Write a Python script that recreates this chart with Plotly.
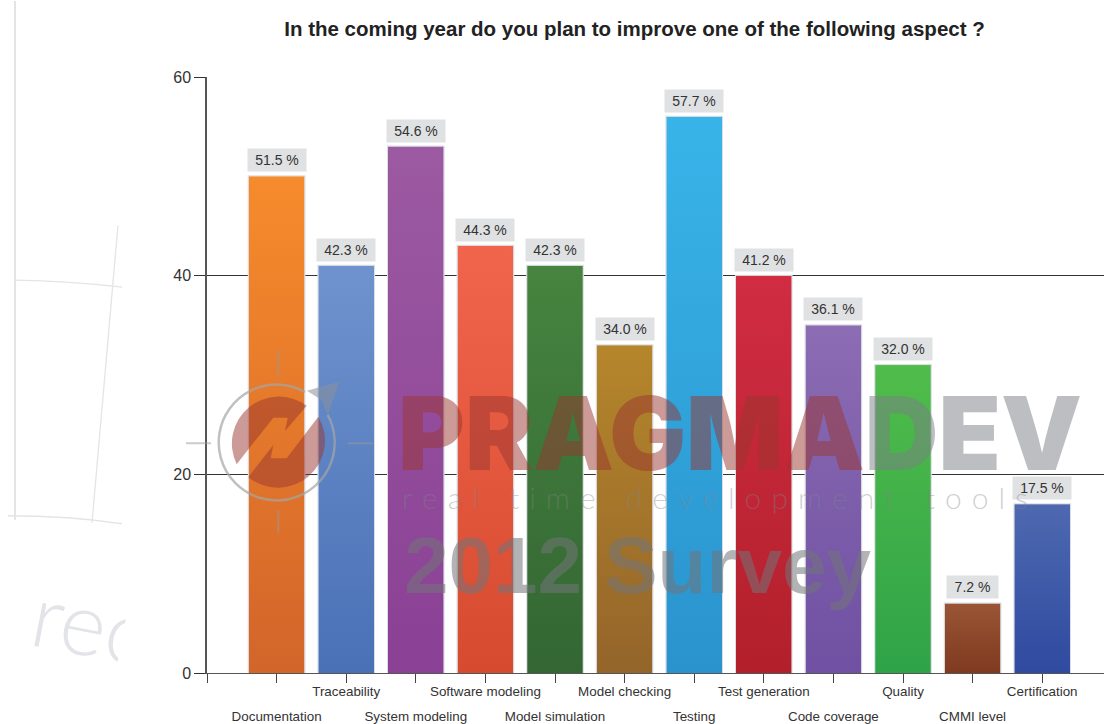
import base64
import plotly.graph_objects as go

categories = ["Documentation", "Traceability", "System modeling", "Software modeling",
              "Model simulation", "Model checking", "Testing", "Test generation",
              "Code coverage", "Quality", "CMMI level", "Certification"]
values = [50, 41, 53, 43, 41, 33, 56, 40, 35, 31, 7, 17]
labels = ["51.5 %", "42.3 %", "54.6 %", "44.3 %", "42.3 %", "34.0 %",
          "57.7 %", "41.2 %", "36.1 %", "32.0 %", "7.2 %", "17.5 %"]
top_colors = ["#F68B2C", "#6F93CE", "#9C5AA2", "#F0654B", "#46843F", "#B5862B",
              "#38B4E9", "#D12C42", "#8C6CB3", "#50BC4A", "#9A5535", "#4E69B0"]
bottom_colors = ["#D2652A", "#4A70B6", "#8A4095", "#D64A30", "#336633", "#94652A",
                 "#2A93CE", "#B2202B", "#6F50A2", "#2FA348", "#7F3A20", "#2F4A9F"]
y_ticks = [0, 20, 40, 60]

W, H = 1104, 724
L, T, B = 207, 76.5, 50.5
FONT = "Liberation Sans, Arial, sans-serif"
TXT = "#333333"
positions = list(range(1, len(categories) + 1))


def uri(svg):
    return "data:image/svg+xml;base64," + base64.b64encode(svg.encode()).decode()


def gradient(c1, c2):
    return uri(f'<svg xmlns="http://www.w3.org/2000/svg" width="10" height="100" viewBox="0 0 10 100" '
               f'preserveAspectRatio="none"><defs><linearGradient id="g" x1="0" y1="0" x2="0" y2="1">'
               f'<stop offset="0" stop-color="{c1}"/><stop offset="1" stop-color="{c2}"/></linearGradient></defs>'
               f'<rect width="10" height="100" fill="url(#g)"/></svg>')


def px_img(svg, x, y, w, h, layer="above"):
    return dict(source=uri(svg), xref="paper", yref="paper", xanchor="left", yanchor="top",
                x=(x - L) / (W - L), y=1 - (y - T) / (H - T - B), sizex=w / (W - L), sizey=h / (H - T - B),
                sizing="stretch", layer=layer)


def xp(px):
    return (px - L) / (W - L)


def yp(px):
    return 1 - (px - T) / (H - T - B)


# logo: coordinates come from a 3x crop with origin (205, 370); SVG origin is (180, 340)
def z(x, y):
    return f"{x / 3 + 25:.1f} {y / 3 + 30:.1f}"


red = 'fill="#99352F" fill-opacity="0.5"'
logo = f'''<svg xmlns="http://www.w3.org/2000/svg" width="200" height="210" viewBox="0 0 200 210">
<path d="M{z(95,283)} L{z(205,143)} L{z(248,143)} L{z(240,183)} L{z(305,107)} A47 47 0 0 0 {z(95,283)} Z" {red}/>
<path d="M{z(130,322)} L{z(205,225)} L{z(197,265)} L{z(245,265)} L{z(340,140)} A47 47 0 0 1 {z(130,322)} Z" {red}/>
<path d="M{z(300,66)} A58 58 0 1 0 {z(368,135)}" fill="none" stroke="#A5A5A5" stroke-opacity="0.7" stroke-width="2.5"/>
<path d="M{z(305,62)} L{z(403,35)} L{z(368,135)} L{z(350,90)} Z" fill="#8A8F99" fill-opacity="0.55"/>
<g stroke="#9A9A9A" stroke-opacity="0.5" stroke-width="2">
<line x1="6" y1="103.3" x2="31" y2="103.3"/>
<line x1="168" y1="103.3" x2="193" y2="103.3"/>
<line x1="98.3" y1="10" x2="98.3" y2="37"/>
<line x1="98.3" y1="170" x2="98.3" y2="193"/>
</g></svg>'''

left = '''<svg xmlns="http://www.w3.org/2000/svg" width="122" height="724" viewBox="0 0 122 724">
<g fill="none" stroke="#E2E4E8">
<line x1="15" y1="0" x2="15" y2="520" stroke-width="2"/>
<path d="M15 280 Q70 281 122 287" stroke-width="1.3"/>
<line x1="118" y1="225" x2="92" y2="523" stroke-width="1.3"/>
<path d="M8 516 Q70 516 122 524" stroke-width="1.6"/>
</g></svg>'''

images = [dict(source=gradient(c1, c2), xref="x", yref="y", x=p - 0.4, y=v, sizex=0.8, sizey=v,
               xanchor="left", yanchor="top", sizing="stretch", layer="above")
          for p, v, c1, c2 in zip(positions, values, top_colors, bottom_colors)]
images.append(px_img(logo, 180, 340, 200, 210))
images.append(px_img(left, 0, 0, 122, 724, layer="below"))

annotations = [dict(x=p, y=v, xref="x", yref="y", text=t, showarrow=False, yanchor="bottom", yshift=4,
                    width=58 if len(t) > 5 else 51, height=22, bgcolor="#DFE1E3",
                    font=dict(family=FONT, size=14, color=TXT), borderpad=0)
               for p, v, t in zip(positions, values, labels)]
SP = "\u00a0\u200a"
annotations += [
    dict(xref="paper", yref="paper", x=xp(396), y=yp(433), xanchor="left", yanchor="middle", showarrow=False,
         text="PRAGMA<span style='color:rgb(123,125,133)'>DEV</span>",
         font=dict(family="Inter", size=102, weight=900, color="rgba(153,53,47,0.5)")),
    dict(xref="paper", yref="paper", x=xp(400), y=yp(497), xanchor="left", yanchor="middle", showarrow=False,
         text=SP.join("real") + SP * 3 + SP.join("time") + SP * 3 + SP.join("development") + SP * 3 + SP.join("tools"),
         font=dict(family="Lato", size=30, weight=300, color="rgba(130,132,140,0.4)")),
    dict(xref="paper", yref="paper", x=xp(402), y=yp(566), xanchor="left", yanchor="middle", showarrow=False,
         text="2012 Survey",
         font=dict(family=FONT, size=80, weight=700, color="rgba(115,117,120,0.55)")),
    dict(xref="paper", yref="paper", x=xp(79), y=yp(620), xanchor="center", yanchor="middle", showarrow=False,
         text="rec", textangle=11, width=92, height=110, align="left",
         font=dict(family="Lato", size=88, weight=300, color="#E2E4E8")),
]

fig = go.Figure()
fig.add_trace(go.Bar(x=positions, y=values, width=0.8, showlegend=False,
                     marker=dict(color=top_colors, line=dict(color="#DCDEE3", width=2))))
fig.add_trace(go.Scatter(x=positions, y=[None] * len(positions), xaxis="x2", showlegend=False, hoverinfo="skip"))

fig.update_layout(
    width=W, height=H, autosize=False, margin=dict(l=L, r=0, t=T, b=B, pad=0),
    paper_bgcolor="white", plot_bgcolor="white", showlegend=False,
    font=dict(family=FONT, color=TXT),
    title=dict(text="<b>In the coming year do you plan to improve one of the following aspect ?</b>",
               x=634.5 / W, xanchor="center", y=1 - 29 / H, yanchor="middle",
               font=dict(family=FONT, size=20.5, color="#222222")),
    xaxis=dict(range=[0, (W - L) / 69.6], tickvals=[0] + positions,
               ticktext=[""] + [c if i % 2 else "" for i, c in enumerate(categories)],
               ticks="outside", ticklen=9, tickcolor="#444", tickwidth=1.3, tickangle=0, ticklabelstandoff=-3,
               showline=True, linecolor="#555", linewidth=1.3, showgrid=False, zeroline=False,
               tickfont=dict(family=FONT, size=13.4, color=TXT)),
    xaxis2=dict(overlaying="x", matches="x", side="bottom", anchor="y", tickvals=positions[0::2],
                ticktext=categories[0::2], ticks="", ticklabelstandoff=34, tickangle=0, showline=False,
                showgrid=False, zeroline=False, tickfont=dict(family=FONT, size=13.4, color=TXT)),
    yaxis=dict(range=[0, 60], tickvals=y_ticks, ticks="outside", ticklen=11, tickcolor="#333", tickwidth=1.3,
               showline=True, linecolor="#555", linewidth=1.5, showgrid=True, gridcolor="#333", gridwidth=1.2,
               zeroline=False, tickfont=dict(family=FONT, size=16, color=TXT)),
    images=images, annotations=annotations,
)

fig.write_html("out.html", config=dict(displayModeBar=False),
               post_script="document.body.style.margin='0';document.body.style.overflow='hidden';")
